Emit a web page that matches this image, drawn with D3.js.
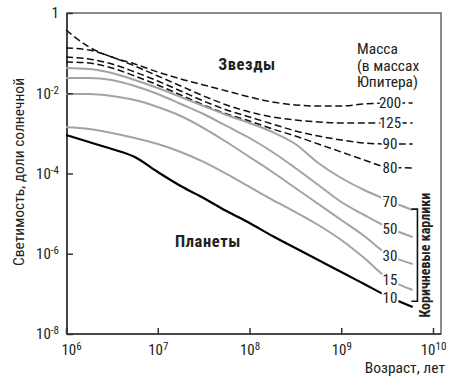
<!DOCTYPE html>
<html><head><meta charset="utf-8">
<script src="https://cdn.jsdelivr.net/npm/d3@7"></script>
<style>
body{margin:0;background:#fff}
svg{display:block}
text{font-family:"Liberation Sans Narrow","Arial Narrow","Roboto Condensed","Liberation Sans",sans-serif;fill:#222}
</style></head><body>
<svg id="c" width="450" height="380"></svg>
<script>
// ---- data ----
const ages = [1e6, 1.78e6, 3.16e6, 5.62e6, 1e7, 1.78e7, 3.16e7, 5.62e7, 1e8, 1.78e8, 3.16e8, 5.62e8, 1e9, 1.78e9, 3.16e9, 6e9];
const L200 = [0.377, 0.142, 0.080, 0.0536, 0.0339, 0.0227, 0.0161, 0.0114, 0.00807, 0.00605, 0.00510, 0.00481, 0.00481, 0.00540, 0.00571, 0.00571];
const L125 = [0.134, 0.120, 0.080, 0.0478, 0.0269, 0.0152, 0.00854, 0.00510, 0.00341, 0.00256, 0.00215, 0.00192, 0.00181, 0.00181, 0.00181, 0.00181];
const L90  = [0.080, 0.0714, 0.0536, 0.0339, 0.0202, 0.0114, 0.00641, 0.00383, 0.00256, 0.00171, 0.00115, 8.6e-4, 6.84e-4, 5.76e-4, 5.43e-4, 5.43e-4];
const L80  = [0.0601, 0.0567, 0.0426, 0.0269, 0.0161, 0.00904, 0.00510, 0.00304, 0.00203, 0.00129, 8.6e-4, 5.43e-4, 3.44e-4, 2.17e-4, 1.45e-4, 1.37e-4];
const L70  = [0.0426, 0.0402, 0.0320, 0.0214, 0.0135, 0.00807, 0.00481, 0.00287, 0.00181, 0.00108, 5.43e-4, 1.83e-4, 7.73e-5, 3.88e-5, 2.19e-5, 1.23e-5];
const L50  = [0.0240, 0.0240, 0.0214, 0.0152, 0.00958, 0.00540, 0.00304, 0.00153, 7.67e-4, 3.44e-4, 1.37e-4, 5.17e-5, 1.95e-5, 9.24e-6, 4.65e-6, 2.61e-6];
const L30  = [0.00958, 0.00958, 0.00854, 0.00679, 0.00454, 0.00271, 0.00136, 6.1e-4, 2.58e-4, 1.09e-4, 4.35e-5, 1.74e-5, 6.93e-6, 2.77e-6, 9.86e-7, 5.55e-7];
const L15  = [0.00144, 0.00129, 0.00102, 7.67e-4, 5.43e-4, 3.44e-4, 1.94e-4, 9.72e-5, 4.61e-5, 2.19e-5, 1.10e-5, 5.21e-6, 2.20e-6, 7.83e-7, 2.49e-7, 1.25e-7];
const L10  = [9.12e-4, 6.1e-4, 4.08e-4, 2.58e-4, 1.09e-4, 4.88e-5, 2.45e-5, 1.16e-5, 5.84e-6, 2.77e-6, 1.39e-6, 6.98e-7, 3.51e-7, 1.76e-7, 8.85e-8, 4.71e-8];
const massLabels = ["200", "125", "90", "80", "70", "50", "30", "15", "10"];
const seriesKinds = ["star", "star", "star", "star", "bd", "bd", "bd", "bd", "planet"];
const xTicks = [1e6, 1e7, 1e8, 1e9, 1e10];
const xExp = ["6", "7", "8", "9", "10"];
const yTicks = [1, 1e-2, 1e-4, 1e-6, 1e-8];
const yExp = ["", "-2", "-4", "-6", "-8"];
const labelAge = 3.4e9;

const seriesValues = [L200, L125, L90, L80, L70, L50, L30, L15, L10];

// ---- chart ----
const svg = d3.select("#c");
const x = d3.scaleLog().domain([1e6, 1e10]).range([66, 433]);
const y = d3.scaleLog().domain([1e-8, 1]).range([334, 13]);

const line = d3.line().x(d => x(d[0])).y(d => y(d[1])).curve(d3.curveMonotoneX);

const style = {
  star:   {stroke: "#111", width: 1.5, dash: "7,3.5"},
  bd:     {stroke: "#a3a3a3", width: 2, dash: null},
  planet: {stroke: "#000", width: 2.2, dash: null}
};

// frame
svg.append("rect").attr("x", 67).attr("y", 13).attr("width", 374).attr("height", 321)
  .attr("fill", "none").attr("stroke", "#666").attr("stroke-width", 1.5);
svg.append("path").attr("d", "M67,13V334H441").attr("fill", "none").attr("stroke", "#333").attr("stroke-width", 1.6);

// lines
seriesValues.forEach((vals, i) => {
  const st = style[seriesKinds[i]];
  const pts = ages.map((a, j) => [a, vals[j]]);
  svg.append("path").attr("d", line(pts)).attr("fill", "none")
    .attr("stroke", st.stroke).attr("stroke-width", st.width)
    .attr("stroke-dasharray", st.dash);
});

// interpolation in log space
function valueAt(vals, age) {
  const la = Math.log10(age);
  for (let j = 0; j < ages.length - 1; j++) {
    const a0 = Math.log10(ages[j]), a1 = Math.log10(ages[j + 1]);
    if (la >= a0 && la <= a1) {
      const t = (la - a0) / (a1 - a0);
      return Math.pow(10, Math.log10(vals[j]) * (1 - t) + Math.log10(vals[j + 1]) * t);
    }
  }
  return vals[vals.length - 1];
}

// series labels
const labelPos = [];
seriesValues.forEach((vals, i) => {
  const ly = y(valueAt(vals, labelAge));
  labelPos.push(ly);
  svg.append("text").attr("x", x(labelAge)).attr("y", ly).attr("dy", "0.36em")
    .attr("text-anchor", "middle").attr("font-size", 15)
    .attr("stroke", "#fff").attr("stroke-width", 4).attr("paint-order", "stroke")
    .text(massLabels[i]);
});

// x axis
const xa = svg.append("g").attr("transform", "translate(0,334)")
  .call(d3.axisBottom(x).tickValues(xTicks).tickSizeInner(-6).tickSizeOuter(0).tickPadding(10).tickFormat(() => ""));
xa.select(".domain").remove();
xa.selectAll(".tick line").attr("stroke", "#333").attr("stroke-width", 1.5);
xa.selectAll(".tick text").each(function(d, i) {
  const t = d3.select(this).attr("font-size", 15).attr("fill", "#222").attr("font-family", null);
  if (i === 0) t.attr("dx", 5);
  t.append("tspan").text("10");
  t.append("tspan").attr("dy", "-0.45em").attr("font-size", 11).text(xExp[i]);
});

// y axis
const ya = svg.append("g").attr("transform", "translate(67,0)")
  .call(d3.axisLeft(y).tickValues(yTicks).tickSizeInner(-6).tickSizeOuter(0).tickPadding(8).tickFormat(() => ""));
ya.select(".domain").remove();
ya.selectAll(".tick line").attr("stroke", "#333").attr("stroke-width", 1.5);
ya.selectAll(".tick text").each(function(d, i) {
  const t = d3.select(this).attr("font-size", 15).attr("fill", "#222").attr("font-family", null);
  if (i === 0) { t.text("1"); return; }
  t.append("tspan").text("10");
  t.append("tspan").attr("dy", "-0.45em").attr("font-size", 11).text(yExp[i]);
});

// axis titles
svg.append("text").attr("x", 445).attr("y", 373).attr("text-anchor", "end").attr("font-size", 15.5)
  .text("Возраст, лет");
svg.append("text").attr("transform", "translate(24,172) rotate(-90)").attr("text-anchor", "middle")
  .attr("font-size", 15.5).text("Светимость, доли солнечной");

// legend title
["Масса", "(в массах", "Юпитера)"].forEach((s, i) => {
  svg.append("text").attr("x", 357).attr("y", 54 + i * 16.5).attr("font-size", 15.5).text(s);
});

// region labels
svg.append("text").attr("x", 247).attr("y", 70).attr("text-anchor", "middle")
  .attr("font-family", "'Liberation Sans',Arial,sans-serif").attr("font-weight", "bold")
  .attr("font-size", 16.5).attr("letter-spacing", 0.6).text("Звезды");
svg.append("text").attr("x", 208).attr("y", 247).attr("text-anchor", "middle")
  .attr("font-family", "'Liberation Sans',Arial,sans-serif").attr("font-weight", "bold")
  .attr("font-size", 16.5).attr("letter-spacing", 0.6).text("Планеты");

// brown dwarf bracket
const bx = x(6.6e9) + 1;
const bTop = labelPos[4] + 8, bBot = labelPos[8] + 4;
svg.append("path").attr("d", `M${bx - 6},${bTop}H${bx}V${bBot}H${bx - 6}`)
  .attr("fill", "none").attr("stroke", "#111").attr("stroke-width", 1.6);
svg.append("text").attr("transform", `translate(${bx + 13},${(bTop + bBot) / 2}) rotate(-90)`)
  .attr("text-anchor", "middle").attr("font-weight", "bold").attr("font-size", 14).text("Коричневые карлики");
</script>
</body></html>
